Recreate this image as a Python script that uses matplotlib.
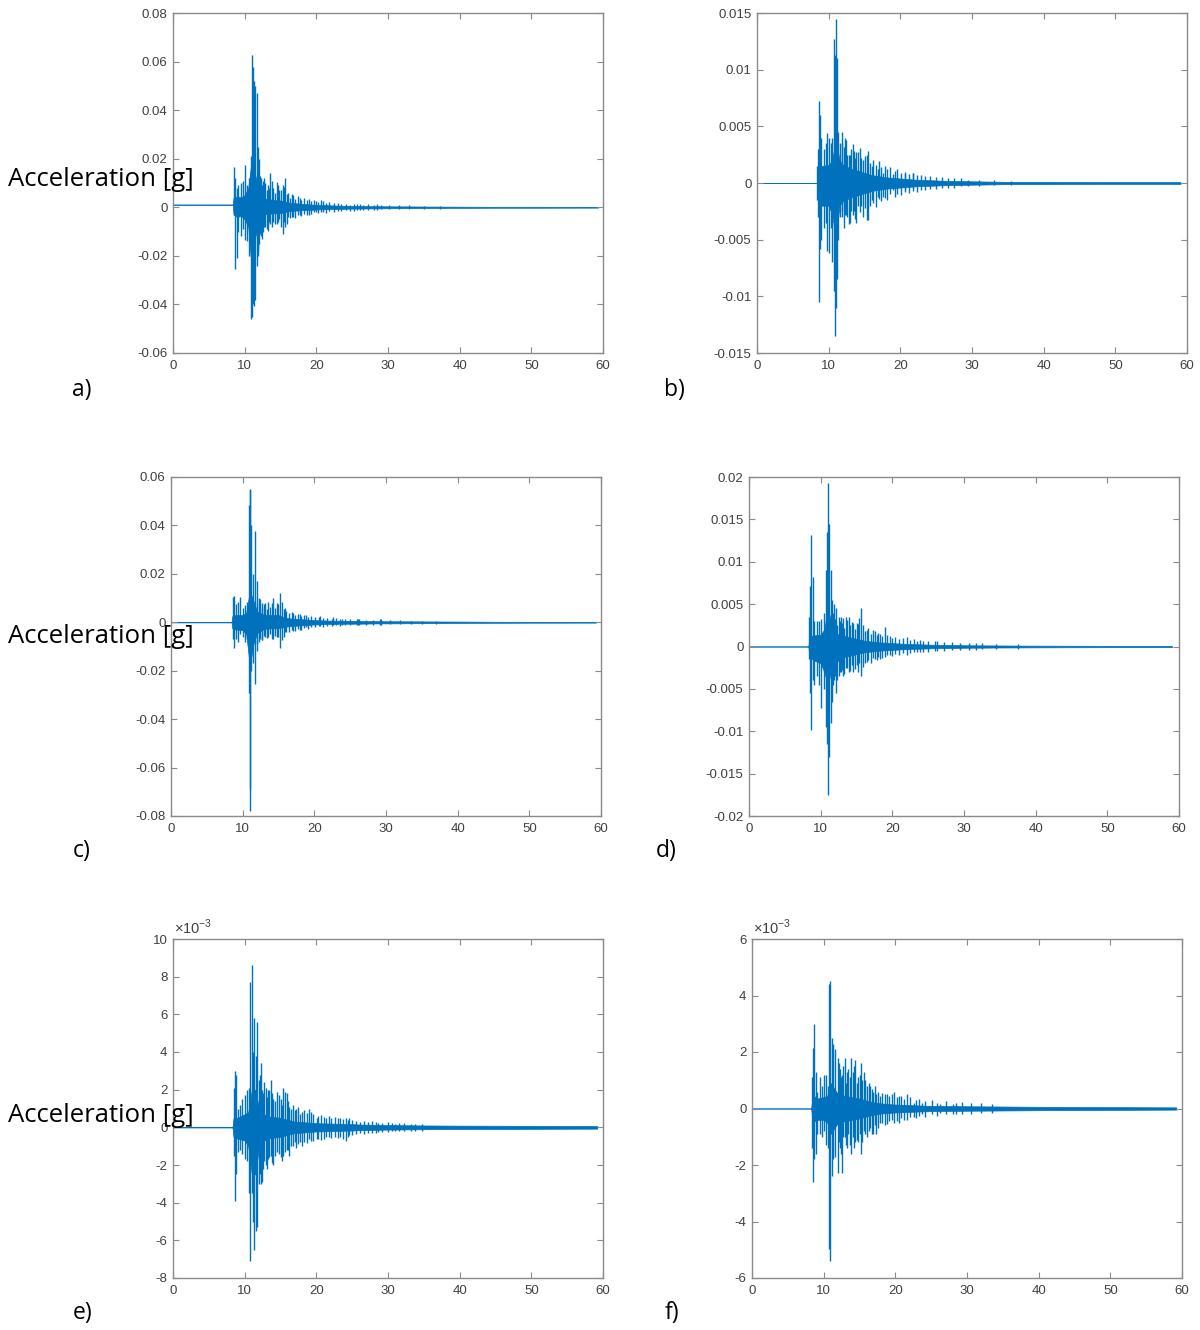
import numpy as np
import matplotlib.pyplot as plt
from matplotlib.ticker import FuncFormatter, MultipleLocator

plt.rcParams['font.family'] = ['Liberation Sans', 'DejaVu Sans']
plt.rcParams['axes.unicode_minus'] = False
plt.rcParams['mathtext.fontset'] = 'custom'
plt.rcParams['mathtext.rm'] = 'Liberation Sans'

LINE = '#0072BD'
FRAME = '#8a8a8a'
TICKTXT = '#404040'

# each record: background band (env), main peaks (spk) and coda peaks (coda)

# ---- a) ----
a_env_t = [0, 8.35, 8.45, 9, 9.5, 10, 10.5, 11, 11.5, 12, 12.5, 13, 14, 15, 16, 17, 18,
           19, 20, 22, 24, 26, 28, 30, 33, 36, 40, 45, 50, 59.3]
a_env_hi = [0.0011, 0.0011, 0.004, 0.0045, 0.004, 0.005, 0.008, 0.02, 0.013, 0.006, 0.0035,
            0.0035, 0.003, 0.0028, 0.002, 0.0017, 0.0014, 0.0012, 0.001, 0.0008, 0.0006,
            0.0005, 0.00045, 0.0004, 0.00035, 0.0003, 0.00025, 0.0002, 0.0002, 0.00015]
a_env_lo = [0.0011, 0.0011, -0.003, -0.004, -0.0035, -0.005, -0.008, -0.026, -0.012, -0.006,
            -0.0032, -0.0028, -0.0025, -0.0024, -0.0017, -0.0014, -0.0012, -0.0011, -0.0009,
            -0.0007, -0.0006, -0.0005, -0.00045, -0.0004, -0.00035, -0.0003, -0.00025,
            -0.0002, -0.0002, -0.00015]
a_spk_t = [8.55, 8.69, 8.87, 9.1, 9.43, 9.7, 10.08, 10.36, 10.64, 10.87, 11.06, 11.2, 11.34,
           11.48, 11.66, 11.85, 12.03, 12.27, 12.6, 12.9, 13.2, 13.6, 14.0, 14.45, 14.8, 15.3,
           15.6, 16.1, 16.8, 17.7, 19.0, 20.0, 21.0, 24.7, 26.1, 28.4]
a_spk_hi = [0.0165, 0.012, 0.008, 0.009, 0.010, 0.011, 0.0175, 0.009, 0.012, 0.021, 0.0625,
            0.0577, 0.052, 0.050, 0.047, 0.025, 0.020, 0.012, 0.011, 0.010, 0.009, 0.014, 0.008,
            0.0105, 0.007, 0.009, 0.012, 0.006, 0.005, 0.004, 0.0035, 0.0025, 0.0025, 0.001,
            0.0012, 0.0012]
a_spk_lo = [-0.003, -0.0254, -0.021, -0.010, -0.012, -0.009, -0.0135, -0.014, -0.020, -0.046,
            -0.045, -0.040, -0.0405, -0.038, -0.024, -0.020, -0.015, -0.012, -0.010, -0.008,
            -0.0096, -0.007, -0.006, -0.007, -0.005, -0.011, -0.008, -0.004, -0.004, -0.003,
            -0.003, -0.002, -0.002, -0.0015, -0.0013, -0.001]
a_coda_t = [11.8, 12.15, 12.45, 12.75, 13.05, 13.4, 13.8, 14.2, 14.6, 15.0, 15.45, 15.85, 16.3,
            16.6, 17.0, 17.4, 17.9, 18.3, 18.7, 19.3, 19.7, 20.3, 20.7, 21.3, 21.8, 22.4, 23.0,
            23.5, 24.2, 25.2, 25.7, 26.5, 27.2, 28.0, 29.0, 30.2, 31.5, 33.0, 35.0, 37.2]
a_coda_hi = [0.016, 0.013, 0.009, 0.012, 0.007, 0.008, 0.011, 0.006, 0.009, 0.007, 0.0085,
             0.0055, 0.004, 0.0055, 0.0035, 0.0045, 0.0032, 0.004, 0.0028, 0.0025, 0.003,
             0.0022, 0.0028, 0.0018, 0.0022, 0.0016, 0.0018, 0.0013, 0.0015, 0.0012, 0.0013,
             0.0011, 0.0012, 0.001, 0.0011, 0.0009, 0.0008, 0.0008, 0.0006, 0.0007]
a_coda_lo = [-0.018, -0.011, -0.013, -0.008, -0.009, -0.006, -0.008, -0.007, -0.006, -0.008,
             -0.006, -0.007, -0.0045, -0.004, -0.0045, -0.003, -0.0035, -0.0028, -0.003,
             -0.0026, -0.002, -0.0025, -0.0018, -0.0022, -0.0016, -0.0018, -0.0014, -0.0016,
             -0.0012, -0.0014, -0.0011, -0.0012, -0.001, -0.0011, -0.0009, -0.0009, -0.0008,
             -0.0007, -0.0007, -0.0006]

# ---- b) ----
b_env_t = [0, 8.35, 8.5, 9, 10, 10.5, 11, 11.5, 12, 13, 14, 15, 16, 17, 18, 19, 20, 22, 24,
           26, 28, 30, 35, 40, 50, 59.1]
b_env_hi = [0, 0, 0.0012, 0.0015, 0.0016, 0.002, 0.004, 0.002, 0.0016, 0.0013, 0.0011,
            0.0009, 0.0007, 0.0006, 0.0005, 0.00045, 0.0004, 0.0003, 0.00025, 0.0002, 0.00018,
            0.00015, 0.0001, 0.0001, 0.00008, 0.00008]
b_env_lo = [0, 0, -0.0012, -0.002, -0.002, -0.0028, -0.005, -0.002, -0.0016, -0.0013,
            -0.0011, -0.0009, -0.0007, -0.0006, -0.0005, -0.00045, -0.0004, -0.0003,
            -0.00025, -0.0002, -0.00018, -0.00015, -0.0001, -0.0001, -0.00008, -0.00008]
b_spk_t = [8.38, 8.52, 8.66, 8.8, 8.99, 9.32, 9.6, 9.83, 10.06, 10.3, 10.53, 10.76, 10.9,
           11.04, 11.18, 11.32, 11.64, 11.92, 12.25, 12.62, 12.95, 13.55, 13.88, 14.49, 15.28,
           15.98, 16.9, 17.6, 19.0, 20.6, 21.7]
b_spk_hi = [0.0015, 0.003, 0.0072, 0.006, 0.004, 0.003, 0.0035, 0.0044, 0.004, 0.0035, 0.004,
            0.0127, 0.0113, 0.0145, 0.011, 0.0045, 0.0035, 0.0035, 0.004, 0.0025, 0.0025,
            0.0028, 0.0027, 0.0022, 0.0025, 0.0015, 0.0012, 0.0009, 0.0008, 0.0008, 0.0009]
b_spk_lo = [-0.0015, -0.003, -0.0105, -0.0058, -0.005, -0.004, -0.0035, -0.006, -0.0062,
            -0.004, -0.007, -0.0095, -0.0135, -0.011, -0.0085, -0.005, -0.003, -0.0025,
            -0.0028, -0.003, -0.0035, -0.0025, -0.0035, -0.002, -0.0033, -0.0015, -0.0012,
            -0.0012, -0.0006, -0.0005, -0.0004]
b_coda_t = [11.8, 12.1, 12.4, 12.8, 13.1, 13.4, 13.7, 14.1, 14.4, 14.8, 15.1, 15.5, 15.8, 16.2,
            16.6, 17.0, 17.3, 17.8, 18.2, 18.6, 19.2, 19.6, 20.1, 20.6, 21.2, 21.8, 22.3, 22.9,
            23.5, 24.2, 25.0, 25.8, 26.6, 27.5, 28.4, 29.5, 31.0, 33.0, 35.5]
b_coda_hi = [0.0045, 0.0032, 0.0038, 0.0025, 0.003, 0.0034, 0.0022, 0.0027, 0.0031, 0.002,
             0.0024, 0.0028, 0.0018, 0.002, 0.0016, 0.0019, 0.0014, 0.0015, 0.0012, 0.0014,
             0.0011, 0.0012, 0.0009, 0.001, 0.0008, 0.0009, 0.0007, 0.0007, 0.0006, 0.0006,
             0.0005, 0.0005, 0.0004, 0.0004, 0.0004, 0.0003, 0.0003, 0.0003, 0.0002]
b_coda_lo = [-0.003, -0.004, -0.0028, -0.0036, -0.0025, -0.0028, -0.0032, -0.002, -0.0026,
             -0.003, -0.0022, -0.0033, -0.002, -0.0018, -0.0021, -0.0014, -0.0016, -0.0013,
             -0.0015, -0.001, -0.0012, -0.001, -0.0011, -0.0008, -0.0009, -0.0007, -0.0008,
             -0.0006, -0.0006, -0.0005, -0.0005, -0.0004, -0.0004, -0.0004, -0.0003, -0.0003,
             -0.0003, -0.0002, -0.0002]

# ---- c) ----
c_env_t = [0, 8.45, 8.55, 9, 10, 10.5, 11, 11.5, 12, 13, 14, 15, 16, 17, 18, 20, 22, 24, 26,
           28, 30, 33, 36, 40, 45, 50, 59.3]
c_env_hi = [0, 0, 0.0025, 0.003, 0.003, 0.004, 0.013, 0.009, 0.0045, 0.003, 0.003, 0.003,
            0.0018, 0.0015, 0.0013, 0.0009, 0.0007, 0.0006, 0.0006, 0.0005, 0.00045, 0.0004,
            0.00035, 0.0003, 0.00022, 0.00018, 0.00015]
c_env_lo = [0, 0, -0.0025, -0.003, -0.0032, -0.005, -0.018, -0.009, -0.0045, -0.0027,
            -0.0025, -0.0025, -0.0018, -0.0015, -0.0013, -0.0009, -0.0007, -0.0006, -0.0006,
            -0.0005, -0.00045, -0.0004, -0.00035, -0.0003, -0.00022, -0.00018, -0.00015]
c_spk_t = [8.6, 8.78, 9.06, 9.29, 9.6, 9.99, 10.31, 10.64, 10.82, 10.96, 11.05, 11.19, 11.38,
           11.66, 11.94, 12.26, 12.63, 13.1, 13.56, 14.26, 14.82, 15.19, 15.88, 17.05, 17.98,
           18.9, 20.8, 22.6, 23.8, 26.1, 29.1]
c_spk_hi = [0.0104, 0.011, 0.0075, 0.0085, 0.0105, 0.006, 0.007, 0.0085, 0.0485, 0.055,
            0.0545, 0.040, 0.020, 0.0375, 0.017, 0.010, 0.008, 0.008, 0.0085, 0.010, 0.008,
            0.012, 0.006, 0.004, 0.0033, 0.003, 0.0025, 0.002, 0.0015, 0.0015, 0.0014]
c_spk_lo = [-0.007, -0.0105, -0.007, -0.008, -0.005, -0.006, -0.008, -0.007, -0.029, -0.069,
            -0.078, -0.020, -0.017, -0.0255, -0.012, -0.008, -0.0075, -0.006, -0.006, -0.007,
            -0.006, -0.0105, -0.004, -0.0035, -0.003, -0.002, -0.0015, -0.0012, -0.0012,
            -0.0012, -0.0012]
c_coda_t = [12.0, 12.35, 12.7, 13.0, 13.35, 13.75, 14.05, 14.5, 14.9, 15.45, 15.7, 16.1, 16.5,
            16.9, 17.3, 17.7, 18.2, 18.6, 19.1, 19.6, 20.1, 20.6, 21.2, 21.8, 22.4, 23.0, 23.6,
            24.3, 25.0, 25.9, 26.3, 27.2, 28.2, 29.3, 30.5, 32.0, 33.5, 35.0, 37.0]
c_coda_hi = [0.008, 0.0095, 0.006, 0.0075, 0.0055, 0.0065, 0.008, 0.006, 0.0075, 0.0085,
             0.0055, 0.0045, 0.0038, 0.0042, 0.003, 0.0034, 0.0026, 0.003, 0.0022, 0.0025,
             0.002, 0.0022, 0.0017, 0.0019, 0.0015, 0.0016, 0.0013, 0.0014, 0.0012, 0.0015,
             0.0013, 0.001, 0.0011, 0.0014, 0.0009, 0.0008, 0.0007, 0.0007, 0.0006]
c_coda_lo = [-0.009, -0.007, -0.0075, -0.0055, -0.0065, -0.005, -0.0068, -0.0055, -0.006,
             -0.0075, -0.006, -0.004, -0.0042, -0.0032, -0.0035, -0.0027, -0.003, -0.0024,
             -0.0026, -0.002, -0.0021, -0.0017, -0.0018, -0.0015, -0.0016, -0.0013, -0.0014,
             -0.0012, -0.0012, -0.0013, -0.0011, -0.001, -0.001, -0.0012, -0.0008, -0.0008,
             -0.0007, -0.0006, -0.0006]

# ---- d) ----
d_env_t = [0, 8.3, 8.4, 9, 10, 10.5, 11, 11.5, 12, 13, 14, 15, 16, 17, 18, 20, 22, 24, 26,
           28, 30, 35, 40, 50, 59.0]
d_env_hi = [0, 0, 0.0012, 0.0013, 0.0014, 0.002, 0.0045, 0.0028, 0.0016, 0.0013, 0.0011,
            0.0009, 0.0007, 0.0006, 0.0005, 0.0004, 0.0003, 0.00025, 0.0002, 0.00018, 0.00015,
            0.00012, 0.0001, 0.00008, 0.00008]
d_env_lo = [0, 0, -0.0012, -0.0016, -0.002, -0.003, -0.0045, -0.0028, -0.002, -0.0013,
            -0.0011, -0.0009, -0.0007, -0.0006, -0.0005, -0.0004, -0.0003, -0.00025, -0.0002,
            -0.00018, -0.00015, -0.00012, -0.0001, -0.00008, -0.00008]
d_spk_t = [8.41, 8.55, 8.69, 8.88, 9.1, 9.43, 9.8, 10.08, 10.46, 10.73, 10.92, 11.06, 11.2,
           11.38, 11.62, 11.85, 12.13, 12.5, 12.83, 13.15, 13.52, 13.99, 14.54, 15.01, 15.61,
           16.4, 17.57, 18.3, 19.0, 19.66, 22.0, 23.8, 25.9, 31.7]
d_spk_hi = [0.0035, 0.0071, 0.0131, 0.0082, 0.003, 0.003, 0.003, 0.0032, 0.004, 0.009, 0.0135,
            0.0193, 0.0145, 0.009, 0.0055, 0.005, 0.0045, 0.0035, 0.0035, 0.0034, 0.0035,
            0.0035, 0.0028, 0.0028, 0.0045, 0.002, 0.0018, 0.0015, 0.0023, 0.0012, 0.0011,
            0.0008, 0.0007, 0.0004]
d_spk_lo = [-0.0015, -0.0055, -0.0098, -0.004, -0.0045, -0.0035, -0.0045, -0.0072, -0.005,
            -0.0095, -0.0115, -0.0175, -0.013, -0.009, -0.0065, -0.004, -0.0055, -0.0035,
            -0.003, -0.0035, -0.0025, -0.003, -0.003, -0.0022, -0.0035, -0.0018, -0.0015,
            -0.0015, -0.0012, -0.001, -0.001, -0.0006, -0.0005, -0.0004]
d_coda_t = [11.7, 12.0, 12.3, 12.65, 12.95, 13.3, 13.7, 14.15, 14.4, 14.8, 15.2, 15.4, 15.85,
            16.2, 16.6, 17.0, 17.3, 17.8, 18.0, 18.6, 19.3, 19.9, 20.4, 20.9, 21.5, 22.4, 23.0,
            23.5, 24.3, 25.0, 26.3, 27.2, 28.3, 29.5, 30.7, 32.5, 34.5, 37.5]
d_coda_hi = [0.004, 0.0032, 0.0025, 0.003, 0.0028, 0.0022, 0.0031, 0.0025, 0.0029, 0.0021,
             0.0026, 0.0034, 0.0025, 0.0018, 0.0022, 0.0015, 0.0019, 0.0013, 0.0016, 0.0012,
             0.0013, 0.001, 0.0011, 0.0009, 0.001, 0.0008, 0.0009, 0.0007, 0.0007, 0.0006,
             0.0006, 0.0005, 0.0005, 0.0004, 0.0004, 0.0004, 0.0003, 0.0003]
d_coda_lo = [-0.0045, -0.0035, -0.004, -0.003, -0.0028, -0.0033, -0.0025, -0.0029, -0.0022,
             -0.0027, -0.003, -0.002, -0.0024, -0.002, -0.0016, -0.0019, -0.0013, -0.0016,
             -0.0012, -0.0014, -0.001, -0.0011, -0.0009, -0.001, -0.0008, -0.0008, -0.0007,
             -0.0007, -0.0006, -0.0006, -0.0005, -0.0005, -0.0004, -0.0004, -0.0004, -0.0003,
             -0.0003, -0.0003]

# ---- e) values in units of 1e-3 g ----
e_env_t = [0, 8.3, 8.45, 9, 10, 10.5, 11, 11.5, 12, 13, 14, 15, 16, 17, 18, 20, 22, 24, 25,
           26, 30, 35, 40, 50, 59.2]
e_env_hi = np.array([0, 0, 0.5, 0.5, 0.7, 0.8, 2.0, 2.0, 1.0, 0.6, 0.55, 0.5, 0.4, 0.3, 0.28,
                     0.22, 0.2, 0.18, 0.17, 0.15, 0.12, 0.1, 0.09, 0.08, 0.07]) * 1e-3
e_env_lo = np.array([0, 0, -0.5, -0.6, -0.7, -1.0, -2.5, -2.5, -1.0, -0.6, -0.55, -0.5, -0.4,
                     -0.3, -0.28, -0.22, -0.2, -0.18, -0.17, -0.15, -0.12, -0.1, -0.09, -0.08,
                     -0.07]) * 1e-3
e_spk_t = [8.48, 8.62, 8.8, 9.04, 9.32, 9.64, 10.01, 10.34, 10.62, 10.81, 10.99, 11.18, 11.36,
           11.55, 11.74, 11.97, 12.3, 12.58, 12.95, 13.27, 13.65, 13.97, 14.53, 15.0, 15.37,
           15.84, 16.4, 17.0, 17.7, 19.0, 20.03, 21.4, 23.3, 24.1, 24.6, 26.1, 28.6, 31.0, 33.8]
e_spk_hi = np.array([2.1, 3.0, 2.8, 1.0, 1.2, 1.5, 1.7, 2.0, 2.1, 7.7, 8.6, 4.0, 5.8, 3.8, 5.6,
                     2.5, 3.4, 1.8, 2.1, 2.0, 2.5, 1.5, 1.9, 1.5, 2.1, 1.8, 1.0, 0.9, 0.7, 1.0,
                     0.5, 0.5, 0.5, 0.5, 0.5, 0.3, 0.25, 0.2, 0.2]) * 1e-3
e_spk_lo = np.array([-1.5, -3.9, -2.5, -1.3, -1.2, -1.4, -1.7, -1.8, -3.5, -7.1, -3.5, -5.0,
                     -6.5, -5.5, -5.3, -3.0, -3.0, -2.2, -2.0, -1.7, -1.5, -2.0, -1.3, -1.6,
                     -1.5, -1.2, -1.0, -0.8, -0.8, -0.6, -0.6, -0.5, -0.5, -0.7, -0.4, -0.3,
                     -0.25, -0.2, -0.2]) * 1e-3
e_coda_t = [12.1, 12.45, 12.75, 13.1, 13.45, 13.8, 14.2, 14.75, 15.2, 15.6, 16.0, 16.25, 16.7,
            17.2, 17.5, 17.95, 18.3, 18.7, 19.3, 19.6, 20.3, 20.7, 21.1, 21.7, 22.1, 22.6, 23.0,
            23.7, 24.35, 25.0, 25.5, 26.6, 27.2, 27.8, 28.3, 29.2, 30.0, 30.5, 31.6, 32.3, 33.2,
            34.8]
e_coda_hi = np.array([2.8, 2.0, 2.4, 1.6, 2.0, 1.8, 1.4, 1.7, 1.2, 1.9, 1.4, 1.1, 1.2, 1.0,
                      1.1, 0.8, 0.9, 0.75, 0.8, 0.7, 0.6, 0.65, 0.55, 0.6, 0.5, 0.55, 0.5, 0.45,
                      0.4, 0.4, 0.35, 0.35, 0.3, 0.35, 0.3, 0.25, 0.28, 0.25, 0.22, 0.25, 0.2,
                      0.18]) * 1e-3
e_coda_lo = np.array([-2.5, -2.9, -1.8, -2.2, -1.6, -1.9, -1.5, -1.4, -1.8, -1.3, -1.2, -1.5,
                      -1.0, -1.1, -0.9, -1.0, -0.8, -0.85, -0.7, -0.75, -0.6, -0.65, -0.6,
                      -0.5, -0.55, -0.5, -0.55, -0.6, -0.5, -0.4, -0.35, -0.35, -0.3, -0.3,
                      -0.28, -0.25, -0.25, -0.22, -0.22, -0.2, -0.2, -0.18]) * 1e-3

# ---- f) values in units of 1e-3 g ----
f_env_t = [0, 8.25, 8.35, 8.5, 9, 10, 10.5, 11, 11.5, 12, 13, 14, 15, 16, 17, 18, 20, 22, 24,
           26, 30, 35, 40, 50, 59.2]
f_env_hi = np.array([0, 0, 0.2, 0.5, 0.35, 0.4, 0.45, 0.9, 0.7, 0.5, 0.45, 0.4, 0.35, 0.28,
                     0.22, 0.18, 0.14, 0.12, 0.1, 0.09, 0.08, 0.07, 0.06, 0.05, 0.04]) * 1e-3
f_env_lo = np.array([0, 0, -0.2, -0.5, -0.4, -0.4, -0.5, -0.9, -0.7, -0.5, -0.45, -0.4, -0.35,
                     -0.28, -0.22, -0.18, -0.14, -0.12, -0.1, -0.09, -0.08, -0.07, -0.06,
                     -0.05, -0.04]) * 1e-3
f_spk_t = [8.37, 8.56, 8.7, 8.88, 9.12, 9.44, 9.72, 10.0, 10.33, 10.6, 10.74, 10.93, 11.12,
           11.35, 11.58, 11.95, 12.33, 12.6, 12.93, 13.26, 13.81, 14.42, 14.74, 15.21, 15.81,
           16.5, 16.88, 17.35, 17.9, 18.84, 19.86, 20.5, 21.6, 22.56, 23.7, 26.3, 28.1]
f_spk_hi = np.array([1.1, 2.15, 3.0, 1.3, 0.6, 1.1, 0.8, 1.2, 1.2, 0.8, 4.4, 4.5, 2.5, 2.3,
                     2.1, 1.8, 1.4, 1.2, 1.8, 1.3, 1.8, 1.7, 1.1, 1.6, 1.0, 0.8, 0.6, 0.5,
                     0.45, 0.5, 0.6, 0.45, 0.5, 0.2, 0.2, 0.15, 0.15]) * 1e-3
f_spk_lo = np.array([-1.4, -2.6, -1.8, -1.6, -0.9, -0.9, -1.0, -0.8, -1.3, -1.4, -4.97, -5.4,
                     -2.4, -1.8, -1.7, -2.3, -1.4, -2.3, -1.0, -1.4, -1.6, -1.2, -1.2, -1.6,
                     -0.9, -0.7, -0.9, -0.9, -0.5, -0.55, -0.5, -0.5, -0.4, -0.3, -0.2, -0.15,
                     -0.2]) * 1e-3
f_coda_t = [12.1, 12.45, 12.75, 13.1, 13.45, 13.65, 14.05, 14.25, 14.6, 15.0, 15.4, 15.65,
            16.05, 16.3, 16.7, 17.1, 17.55, 18.1, 18.5, 19.1, 19.5, 20.2, 20.8, 21.2, 22.0,
            22.9, 23.3, 24.2, 25.1, 25.8, 27.0, 28.5, 29.3, 30.5, 32.0, 33.5]
f_coda_hi = np.array([1.6, 1.1, 1.5, 0.9, 1.4, 1.1, 1.3, 1.5, 0.9, 1.2, 1.0, 1.3, 0.8, 0.9,
                      0.7, 0.8, 0.6, 0.55, 0.5, 0.45, 0.5, 0.4, 0.45, 0.35, 0.4, 0.3, 0.35,
                      0.25, 0.3, 0.2, 0.25, 0.2, 0.22, 0.18, 0.18, 0.15]) * 1e-3
f_coda_lo = np.array([-1.2, -1.6, -1.0, -1.3, -0.9, -1.3, -1.0, -1.4, -1.1, -0.9, -1.2, -0.8,
                      -1.0, -0.8, -0.9, -0.6, -0.7, -0.5, -0.6, -0.45, -0.4, -0.45, -0.35,
                      -0.4, -0.3, -0.35, -0.25, -0.3, -0.2, -0.25, -0.2, -0.2, -0.18, -0.18,
                      -0.15, -0.15]) * 1e-3

W, H = 1200, 1330

# panel boxes in pixels: left, top, right, bottom
panels = [
    dict(box=(173, 13, 603, 353), ylim=(-0.06, 0.08), step=0.02, scale=1,
         env=(a_env_t, a_env_lo, a_env_hi),
         spk=[(a_spk_t, a_spk_lo, a_spk_hi), (a_coda_t, a_coda_lo, a_coda_hi)],
         tag='a)', tag_xy=(82, 390), ylab_y=179),
    dict(box=(757, 13, 1187, 353), ylim=(-0.015, 0.015), step=0.005, scale=1,
         env=(b_env_t, b_env_lo, b_env_hi),
         spk=[(b_spk_t, b_spk_lo, b_spk_hi), (b_coda_t, b_coda_lo, b_coda_hi)],
         tag='b)', tag_xy=(674, 390), ylab_y=None),
    dict(box=(171, 477, 601, 816), ylim=(-0.08, 0.06), step=0.02, scale=1,
         env=(c_env_t, c_env_lo, c_env_hi),
         spk=[(c_spk_t, c_spk_lo, c_spk_hi), (c_coda_t, c_coda_lo, c_coda_hi)],
         tag='c)', tag_xy=(82, 851), ylab_y=637),
    dict(box=(749, 477, 1179, 816), ylim=(-0.02, 0.02), step=0.005, scale=1,
         env=(d_env_t, d_env_lo, d_env_hi),
         spk=[(d_spk_t, d_spk_lo, d_spk_hi), (d_coda_t, d_coda_lo, d_coda_hi)],
         tag='d)', tag_xy=(666, 851), ylab_y=None),
    dict(box=(173, 939, 603, 1278), ylim=(-0.008, 0.010), step=0.002, scale=1e-3,
         env=(e_env_t, e_env_lo, e_env_hi),
         spk=[(e_spk_t, e_spk_lo, e_spk_hi), (e_coda_t, e_coda_lo, e_coda_hi)],
         tag='e)', tag_xy=(83, 1313), ylab_y=1115),
    dict(box=(752, 939, 1182, 1278), ylim=(-0.006, 0.006), step=0.002, scale=1e-3,
         env=(f_env_t, f_env_lo, f_env_hi),
         spk=[(f_spk_t, f_spk_lo, f_spk_hi), (f_coda_t, f_coda_lo, f_coda_hi)],
         tag='f)', tag_xy=(672, 1313), ylab_y=None),
]

fig = plt.figure(figsize=(W / 100, H / 100), dpi=100)

for p in panels:
    l, t, r, b = p['box']
    ax = fig.add_axes([l / W, 1 - b / H, (r - l) / W, (b - t) / H])

    et, elo, ehi = p['env']
    ax.fill_between(et, elo, ehi, color=LINE, lw=0.5)
    for st, slo, shi in p['spk']:
        ax.vlines(st, slo, shi, color=LINE, lw=1.0)

    ax.set_xlim(0, 60)
    ax.set_ylim(*p['ylim'])
    ax.xaxis.set_major_locator(MultipleLocator(10))
    ax.yaxis.set_major_locator(MultipleLocator(p['step']))
    sc = p['scale']
    ax.yaxis.set_major_formatter(FuncFormatter(lambda v, pos, sc=sc: '%g' % (round(v / sc, 6) + 0.0)))
    ax.xaxis.set_major_formatter(FuncFormatter(lambda v, pos: '%g' % v))

    ax.tick_params(direction='in', length=4, width=0.8, color=FRAME, top=True, right=True,
                   labelsize=9.5, labelcolor=TICKTXT)
    ax.tick_params(axis='x', pad=5)
    ax.tick_params(axis='y', pad=4)
    for s in ax.spines.values():
        s.set_color(FRAME)
        s.set_linewidth(1.0)

    if sc != 1:
        ax.text(0.003, 1.006, r'$\times10^{-3}$', transform=ax.transAxes, fontsize=10.5,
                color=TICKTXT, ha='left', va='bottom')

    fig.text(p['tag_xy'][0] / W, 1 - p['tag_xy'][1] / H, p['tag'], ha='center', va='center',
             fontsize=16.5, family='Open Sans')
    if p['ylab_y'] is not None:
        fig.text(8 / W, 1 - p['ylab_y'] / H, 'Acceleration [g]', ha='left', va='center',
                 fontsize=18.5, family='Open Sans', zorder=5)

fig.savefig('out.png', dpi=100)
